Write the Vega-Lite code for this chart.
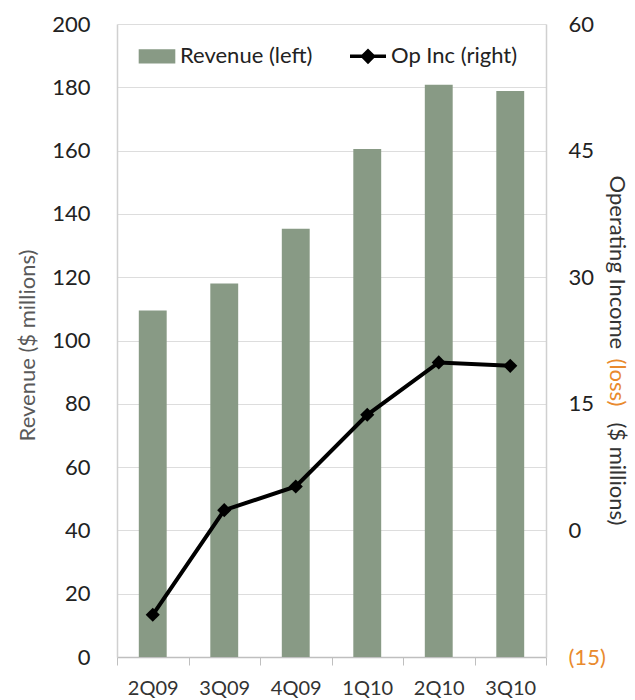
{
  "$schema": "https://vega.github.io/schema/vega-lite/v6.json",
  "autosize": {"type": "none"},
  "padding": {"left": 117, "top": 24, "right": 89, "bottom": 43},
  "width": 429,
  "height": 633,
  "background": "white",
  "config": {
    "view": {"stroke": null},
    "font": "Lato",
    "axis": {"labelFont": "Lato", "titleFont": "Lato", "titleFontWeight": "normal"}
  },
  "data": {
    "values": [
      {"q": "2Q09", "revenue": 109.5, "opinc": -10.0},
      {"q": "3Q09", "revenue": 118.0, "opinc": 2.4},
      {"q": "4Q09", "revenue": 135.3, "opinc": 5.2},
      {"q": "1Q10", "revenue": 160.5, "opinc": 13.7},
      {"q": "2Q10", "revenue": 180.8, "opinc": 19.9},
      {"q": "3Q10", "revenue": 178.8, "opinc": 19.5}
    ]
  },
  "encoding": {
    "x": {
      "field": "q",
      "type": "nominal",
      "sort": null,
      "scale": {"paddingInner": 0, "paddingOuter": 0},
      "axis": {
        "title": null,
        "labelAngle": 0,
        "labelFontSize": 20,
        "labelColor": "#333333",
        "labelPadding": 13,
        "tickBand": "extent",
        "tickSize": 8,
        "tickColor": "#BFBFBF",
        "domainColor": "#BFBFBF",
        "domainWidth": 1.5
      }
    }
  },
  "layer": [
    {
      "mark": {"type": "bar", "width": {"band": 0.39}},
      "encoding": {
        "y": {
          "field": "revenue",
          "type": "quantitative",
          "scale": {"domain": [0, 200], "nice": false},
          "axis": {
            "orient": "left",
            "values": [0, 20, 40, 60, 80, 100, 120, 140, 160, 180, 200],
            "title": "Revenue ($ millions)",
            "titleFontSize": 22,
            "titleColor": "#595959",
            "titleAngle": 270,
            "titleX": -90,
            "titleY": 321,
            "titleAlign": "center",
            "titleBaseline": "middle",
            "labelFontSize": 22,
            "labelColor": "#222222",
            "labelPadding": 27,
            "ticks": false,
            "domainColor": "#D0D0D0",
            "domainWidth": 1.5,
            "grid": true,
            "gridColor": "#DDDDDD",
            "gridWidth": 1.2
          }
        },
        "color": {
          "datum": "Revenue (left)",
          "scale": {"domain": ["Revenue (left)", "Op Inc (right)"], "range": ["#889A85", "#000000"]},
          "legend": {
            "orient": "none",
            "legendX": 20,
            "legendY": 12,
            "direction": "horizontal",
            "title": null,
            "labelFont": "Lato",
            "labelFontSize": 22,
            "labelColor": "#222222",
            "labelOffset": 3,
            "columnPadding": 30,
            "symbolSize": 1296,
            "symbolStrokeWidth": 3.5,
            "encode": {
              "symbols": {
                "update": {
                  "shape": {"signal": "datum.value === 'Revenue (left)' ? 'M-0.92,-0.3H0.92V0.3H-0.92Z' : 'M-1,0H1M0,-0.3L0.3,0L0,0.3L-0.3,0Z'"},
                  "fill": {"signal": "datum.value === 'Revenue (left)' ? '#889A85' : '#000000'"},
                  "stroke": {"signal": "datum.value === 'Revenue (left)' ? 'transparent' : '#000000'"},
                  "strokeWidth": {"value": 3.5},
                  "opacity": {"value": 1},
                  "fillOpacity": {"value": 1},
                  "strokeOpacity": {"value": 1}
                }
              }
            }
          }
        }
      }
    },
    {
      "mark": {"type": "line", "strokeWidth": 4},
      "encoding": {
        "y": {
          "field": "opinc",
          "type": "quantitative",
          "scale": {"domain": [-15, 60], "nice": false, "zero": false},
          "axis": {
            "orient": "right",
            "values": [-15, 0, 15, 30, 45, 60],
            "labelExpr": "datum.value < 0 ? '(' + (-datum.value) + ')' : datum.label",
            "labelColor": {"expr": "datum.value < 0 ? '#E98A2D' : '#222222'"},
            "labelFontSize": 22,
            "labelPadding": 22,
            "ticks": false,
            "grid": false,
            "domainColor": "#D0D0D0",
            "domainWidth": 1.5,
            "title": "Operating Income\u00a0\u00a0\u00a0\u00a0\u00a0\u00a0\u00a0\u00a0\u00a0\u00a0\u00a0\u00a0\u00a0($ millions)",
            "titleFontSize": 22,
            "titleColor": "#333333",
            "titleAngle": 90,
            "titleX": 70,
            "titleY": 326,
            "titleAlign": "center",
            "titleBaseline": "middle"
          }
        },
        "color": {"datum": "Op Inc (right)"}
      }
    },
    {
      "mark": {"type": "point", "filled": true, "shape": "diamond", "size": 200, "opacity": 1},
      "encoding": {
        "y": {
          "field": "opinc",
          "type": "quantitative",
          "scale": {"domain": [-15, 60], "nice": false, "zero": false},
          "axis": {
            "orient": "right",
            "labels": false,
            "ticks": false,
            "domain": false,
            "grid": false,
            "title": "(loss)",
            "titleFontSize": 22,
            "titleColor": "#E98A2D",
            "titleAngle": 90,
            "titleX": 70,
            "titleY": 358,
            "titleAlign": "center",
            "titleBaseline": "middle"
          }
        },
        "color": {"datum": "Op Inc (right)"}
      }
    }
  ],
  "resolve": {"scale": {"y": "independent"}}
}
